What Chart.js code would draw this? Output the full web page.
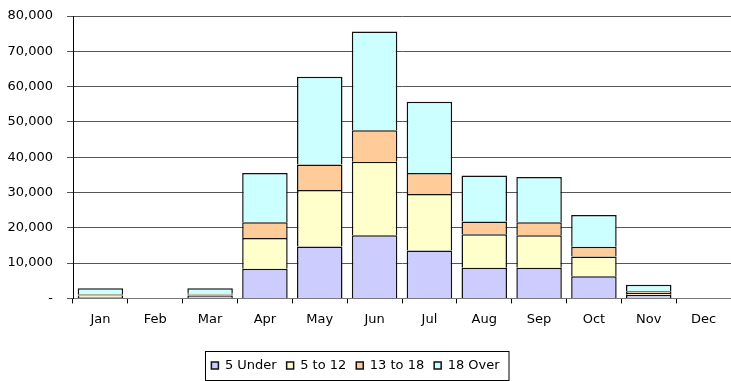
<!DOCTYPE html>
<html>
<head>
<meta charset="utf-8">
<script src="https://cdn.jsdelivr.net/npm/chart.js@4/dist/chart.umd.min.js"></script>
<style>
  html, body { margin: 0; padding: 0; background: #fff; }
  #wrap { width: 731px; height: 381px; }
</style>
</head>
<body>
<div id="wrap"><canvas id="grafico-idades"></canvas></div>
<script>
// attendance by month, split by age group
const meses = ['Jan', 'Feb', 'Mar', 'Apr', 'May', 'Jun', 'Jul', 'Aug', 'Sep', 'Oct', 'Nov', 'Dec'];
const cincoUnder = [400, 0, 800, 8400, 14700, 17900, 13600, 8700, 8700, 6300, 1000, 0];
const cincoA12   = [400, 0, 200, 8700, 16000, 20800, 16000, 9500, 9200, 5600, 500, 0];
const trezeA18   = [400, 0, 300, 4500, 7200, 8900, 5900, 3600, 3700, 2700, 500, 0];
const dezoitoOver = [1700, 0, 1600, 13900, 24900, 28000, 20200, 13000, 12800, 9000, 1900, 0];
const yTicks = [0, 10000, 20000, 30000, 40000, 50000, 60000, 70000, 80000];

Chart.defaults.font.family = 'DejaVu Sans';
Chart.defaults.font.size = 13;
Chart.defaults.color = '#000';

// moves the legend a bit and draws the frame around it
const legendBox = {
  id: 'legendBox',
  afterLayout(chart) {
    const lg = chart.legend;
    lg.left -= 10;
    lg.right -= 10;
    lg.top += 1;
    lg.bottom += 1;
  },
  afterDraw(chart) {
    const boxes = chart.legend.legendHitBoxes;
    if (!boxes || !boxes.length) return;
    const first = boxes[0];
    const last = boxes[boxes.length - 1];
    const c = chart.ctx;
    c.save();
    c.strokeStyle = '#000';
    c.lineWidth = 1;
    const x = Math.round(first.left) - 5.5;
    const y = Math.round(first.top) - 7.5;
    c.strokeRect(x, y, Math.round(last.left + last.width) + 9 - x, 29);
    c.restore();
  }
};

const ctxIdades = document.getElementById('grafico-idades');
new Chart(ctxIdades, {
  type: 'bar',
  data: {
    labels: meses,
    datasets: [
      { label: '5 Under', data: cincoUnder, backgroundColor: '#CCCCFF' },
      { label: '5 to 12', data: cincoA12, backgroundColor: '#FFFFCC' },
      { label: '13 to 18', data: trezeA18, backgroundColor: '#FFCC99' },
      { label: '18 Over', data: dezoitoOver, backgroundColor: '#CCFFFF' }
    ].map(d => Object.assign(d, {
      borderColor: '#111',
      borderWidth: 1.5,
      borderSkipped: 'start',
      barPercentage: 0.83,
      categoryPercentage: 1
    }))
  },
  options: {
    responsive: true,
    maintainAspectRatio: false,
    animation: false,
    layout: { padding: { top: 16, right: 0, bottom: 0, left: 0 } },
    plugins: {
      tooltip: { enabled: false },
      legend: {
        position: 'bottom',
        labels: { boxWidth: 7, boxHeight: 7, padding: 10, color: '#000' }
      }
    },
    scales: {
      x: {
        stacked: true,
        afterFit(scale) { scale.height += 13; },
        grid: { offset: true, drawOnChartArea: false, tickLength: 5, color: '#000' },
        border: { color: '#777', width: 1 },
        ticks: { padding: 8 }
      },
      y: {
        stacked: true,
        min: 0,
        max: 80000,
        afterFit(scale) {
          scale.width = 73;
          scale.paddingTop = 0;
          scale.paddingBottom = 0;
        },
        afterBuildTicks(scale) { scale.ticks = yTicks.map(v => ({ value: v })); },
        grid: { color: '#555', tickLength: 6 },
        border: { color: '#000', width: 1 },
        ticks: {
          padding: 14,
          callback: v => v === 0 ? '-' : v.toLocaleString('en-US')
        }
      }
    }
  },
  plugins: [legendBox]
});
</script>
</body>
</html>
